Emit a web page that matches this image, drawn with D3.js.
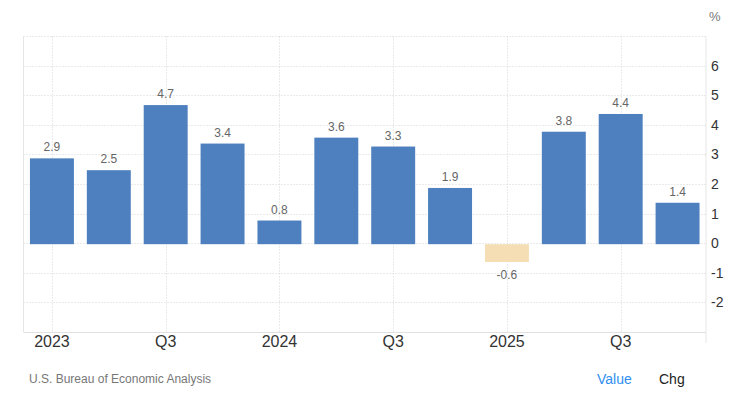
<!DOCTYPE html>
<html><head><meta charset="utf-8">
<script src="https://cdn.jsdelivr.net/npm/d3@7"></script>
<style>
html,body{margin:0;padding:0;background:#fff;}
svg{display:block;font-family:"Liberation Sans",Arial,Helvetica,sans-serif;}
</style></head>
<body>
<svg id="c" width="733" height="406"></svg>
<script>
const categories = ["2023 Q1","2023 Q2","2023 Q3","2023 Q4","2024 Q1","2024 Q2","2024 Q3","2024 Q4","2025 Q1","2025 Q2","2025 Q3","2025 Q4"];
const values = [2.9, 2.5, 4.7, 3.4, 0.8, 3.6, 3.3, 1.9, -0.6, 3.8, 4.4, 1.4];
const xTickLabels = ["2023","Q3","2024","Q3","2025","Q3"];
const xTickCats = ["2023 Q1","2023 Q3","2024 Q1","2024 Q3","2025 Q1","2025 Q3"];
const yTicks = [-2,-1,0,1,2,3,4,5,6];
const yGrid = [-2,-1,0,1,2,3,4,5,6,7];
const yDomain = [-3, 7];

const svg = d3.select("#c");
const L = 23.5, R = 706, T = 37, B = 333;
const x = d3.scaleBand().domain(categories).range([L, R]).paddingInner(0.227).paddingOuter(0.1135);
const y = d3.scaleLinear().domain(yDomain).range([B, T]);

// horizontal dotted gridlines
svg.append("g").selectAll("line").data(yGrid).join("line")
  .attr("x1", L).attr("x2", R)
  .attr("y1", d => Math.round(y(d)) - 0.5).attr("y2", d => Math.round(y(d)) - 0.5)
  .attr("stroke", "#d4d4d4").attr("stroke-dasharray", "1,2");
// vertical dotted gridlines
svg.append("g").selectAll("line").data(xTickCats).join("line")
  .attr("x1", d => Math.round(x(d) + x.bandwidth()/2) + 0.5)
  .attr("x2", d => Math.round(x(d) + x.bandwidth()/2) + 0.5)
  .attr("y1", T - 0.5).attr("y2", B - 1)
  .attr("stroke", "#d4d4d4").attr("stroke-dasharray", "1,2");

// frame lines
svg.append("line").attr("x1", L).attr("x2", L).attr("y1", T - 0.5).attr("y2", B - 1).attr("stroke", "#e6e6e6");
svg.append("line").attr("x1", R).attr("x2", R).attr("y1", T - 0.5).attr("y2", B + 10).attr("stroke", "#e6e6e6");
svg.append("line").attr("x1", L).attr("x2", R).attr("y1", B - 0.5).attr("y2", B - 0.5).attr("stroke", "#e0e0e0");

// bars
svg.append("g").selectAll("rect").data(values).join("rect")
  .attr("x", (d,i) => x(categories[i]))
  .attr("width", x.bandwidth())
  .attr("y", d => y(Math.max(0, d)))
  .attr("height", d => Math.abs(y(d) - y(0)))
  .attr("fill", d => d < 0 ? "#f5deb3" : "#4e80bf");

// bar labels
svg.append("g").selectAll("text").data(values).join("text")
  .attr("x", (d,i) => x(categories[i]) + x.bandwidth()/2)
  .attr("y", d => d < 0 ? y(d) + 17 : y(d) - 7)
  .attr("text-anchor", "middle")
  .attr("font-size", 12).attr("fill", "#666")
  .text(d => d.toFixed(1));

// y axis labels (right)
svg.append("g").selectAll("text").data(yTicks).join("text")
  .attr("x", 711).attr("y", d => y(d) + 4)
  .attr("font-size", 14).attr("fill", "#333")
  .text(d => d);
svg.append("text").attr("x", 709).attr("y", 21).attr("font-size", 13).attr("fill", "#777").text("%");

// x axis labels
svg.append("g").selectAll("text").data(xTickLabels).join("text")
  .attr("x", (d,i) => x(xTickCats[i]) + x.bandwidth()/2)
  .attr("y", 347)
  .attr("text-anchor", "middle")
  .attr("font-size", 16).attr("fill", "#333")
  .text(d => d);

// footer
svg.append("text").attr("x", 29).attr("y", 383).attr("font-size", 12).attr("fill", "#777").text("U.S. Bureau of Economic Analysis");
svg.append("text").attr("x", 597).attr("y", 384).attr("font-size", 14).attr("fill", "#2f8fee").text("Value");
svg.append("text").attr("x", 659).attr("y", 384).attr("font-size", 14).attr("fill", "#222").text("Chg");
</script>
</body></html>
